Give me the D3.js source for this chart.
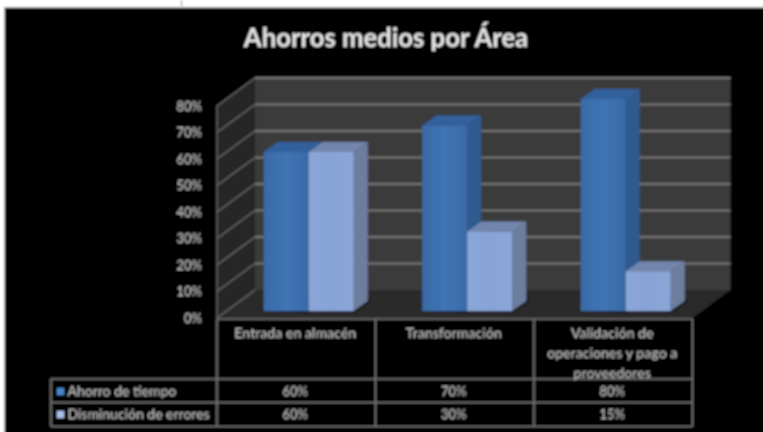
<!DOCTYPE html>
<html>
<head>
<meta charset="utf-8">
<script src="https://cdn.jsdelivr.net/npm/d3@7"></script>
<style>
  html, body { margin: 0; padding: 0; background: #fff; }
  svg { display: block; }
  text { font-family: Lato, "Open Sans", sans-serif; }
</style>
</head>
<body>
<div id="chart-area"></div>
<script>
const categories = ["Entrada en almacén", "Transformación", "Validación de operaciones y pago a proveedores"];
const categoryLines = [["Entrada en almacén"], ["Transformación"], ["Validación de", "operaciones y pago a", "proveedores"]];
const seriesNames = ["Ahorro de tiempo", "Disminución de errores"];
const ahorro = [60, 70, 80];
const disminucion = [60, 30, 15];
const yTicks = [0, 10, 20, 30, 40, 50, 60, 70, 80];

const W = 763, H = 432;
const colors = [
  {front: "#3f74b5", frontDark: "#3a6aa6", top: "#32609c", side: "#2e5a90"},
  {front: "#88a3d5", frontDark: "#8ba6d8", top: "#7286ad", side: "#6c7d9e"}
];
// 3d offsets: whole depth of the box, where the bars stand, depth of a bar
const depth = {x: 38, y: -28};
const barPos = {x: 12.5, y: -7};
const barDepth = {x: 14, y: -10};

const svg = d3.select("#chart-area").append("svg")
  .attr("width", W).attr("height", H);

const defs = svg.append("defs");
defs.append("filter").attr("id", "soft")
  .attr("x", 0).attr("y", 0).attr("width", W).attr("height", H)
  .attr("filterUnits", "userSpaceOnUse")
  .append("feGaussianBlur").attr("stdDeviation", 0.85);
colors.forEach((c, i) => {
  let grad = defs.append("linearGradient").attr("id", "bar" + i);
  grad.append("stop").attr("offset", "0%").attr("stop-color", c.frontDark);
  grad.append("stop").attr("offset", "50%").attr("stop-color", c.front);
  grad.append("stop").attr("offset", "100%").attr("stop-color", c.frontDark);
});

const root = svg.append("g").attr("filter", "url(#soft)");

// white page with the black slide on it
root.append("rect").attr("width", W).attr("height", H).attr("fill", "#fff");
root.append("rect").attr("x", 4.5).attr("y", 7.5).attr("width", W).attr("height", H)
  .attr("fill", "#000").attr("stroke", "#9a9a9a");
root.append("line").attr("x1", 181.5).attr("x2", 181.5).attr("y1", 0).attr("y2", 6)
  .attr("stroke", "#555");

root.append("text").text("Ahorros medios por Área")
  .attr("x", 386).attr("y", 47)
  .attr("text-anchor", "middle")
  .attr("font-size", 25.7).attr("font-weight", 700)
  .attr("fill", "#e8e8e8");

const x = d3.scaleBand().domain(categories).range([217, 692.5]);
const xSeries = d3.scaleBand().domain(seriesNames).range([0, 90]);
const y = d3.scaleLinear().domain([0, 80]).range([318, 106]);

const poly = pts => pts.map(p => p.join(",")).join(" ");
const x0 = x.range()[0], x1 = x.range()[1];

// walls and floor
root.append("polygon")
  .attr("points", poly([[x0 + depth.x, y(80) + depth.y], [x1 + depth.x, y(80) + depth.y], [x1 + depth.x, y(0) + depth.y], [x0 + depth.x, y(0) + depth.y]]))
  .attr("fill", "#3a3a3a");
root.append("polygon")
  .attr("points", poly([[x0, y(80)], [x0 + depth.x, y(80) + depth.y], [x0 + depth.x, y(0) + depth.y], [x0, y(0)]]))
  .attr("fill", "#262626");
root.append("polygon")
  .attr("points", poly([[x0, y(0)], [x1, y(0)], [x1 + depth.x, y(0) + depth.y], [x0 + depth.x, y(0) + depth.y]]))
  .attr("fill", "#292929");

// gridlines, back wall then side wall
root.append("g").selectAll("line").data(yTicks.slice(1)).join("line")
  .attr("x1", x0 + depth.x).attr("x2", x1 + depth.x)
  .attr("y1", d => y(d) + depth.y).attr("y2", d => y(d) + depth.y)
  .attr("stroke", "#767676").attr("stroke-width", 2);
root.append("g").selectAll("line").data(yTicks).join("line")
  .attr("x1", x0).attr("x2", x0 + depth.x)
  .attr("y1", d => y(d)).attr("y2", d => y(d) + depth.y)
  .attr("stroke", "#6a6a6a").attr("stroke-width", 1.4);
root.append("line")
  .attr("x1", x0).attr("x2", x0).attr("y1", y(80)).attr("y2", y(0))
  .attr("stroke", "#6a6a6a").attr("stroke-width", 1.4);

// y axis labels
let yAxis = d3.axisLeft(y).tickValues(yTicks).tickSize(0).tickPadding(15)
  .tickFormat(d => d + "%");
let yAxis_group = root.append("g")
  .attr("transform", "translate(" + x0 + ",0)")
  .call(yAxis);
yAxis_group.select(".domain").remove();
yAxis_group.selectAll("text")
  .attr("font-family", "Lato").attr("font-size", 13).attr("font-weight", 400)
  .attr("fill", "#cccccc");

// bars
const rows = [ahorro, disminucion];
categories.forEach((cat, ci) => {
  seriesNames.forEach((name, si) => {
    let c = colors[si];
    let left = x(cat) + (x.bandwidth() - xSeries.range()[1]) / 2 + xSeries(name) + barPos.x;
    let right = left + xSeries.bandwidth();
    let bottom = y(0) + barPos.y;
    let top = y(rows[si][ci]) + barPos.y;
    let g = root.append("g");
    // shadow on the floor
    g.append("polygon")
      .attr("points", poly([[left + 4, bottom], [right + 2, bottom + 1.5], [right + barDepth.x + 3, bottom + barDepth.y], [right + barDepth.x, bottom + barDepth.y - 2]]))
      .attr("fill", "#141414");
    g.append("polygon")
      .attr("points", poly([[left, top], [right, top], [right + barDepth.x, top + barDepth.y], [left + barDepth.x, top + barDepth.y]]))
      .attr("fill", c.top);
    g.append("polygon")
      .attr("points", poly([[right, top], [right + barDepth.x, top + barDepth.y], [right + barDepth.x, bottom + barDepth.y], [right, bottom]]))
      .attr("fill", c.side);
    g.append("rect")
      .attr("x", left).attr("y", top)
      .attr("width", right - left).attr("height", bottom - top)
      .attr("fill", "url(#bar" + si + ")");
  });
});

// data table under the chart
const tableLeft = 51;
const rowY = [y(0) + 1, 379, 402.5, 426.5];
const lineColor = "#7c7c7c";
let table = root.append("g").attr("stroke", lineColor).attr("stroke-width", 1.6).attr("fill", "none");
table.append("line").attr("x1", x0).attr("x2", x1).attr("y1", rowY[0]).attr("y2", rowY[0]);
rowY.slice(1).forEach(ry => {
  table.append("line").attr("x1", tableLeft).attr("x2", x1).attr("y1", ry).attr("y2", ry);
});
table.append("line").attr("x1", tableLeft).attr("x2", tableLeft).attr("y1", rowY[1]).attr("y2", rowY[3]);
categories.concat([null]).forEach(cat => {
  let lx = cat === null ? x1 : x(cat);
  table.append("line").attr("x1", lx).attr("x2", lx).attr("y1", rowY[0]).attr("y2", rowY[3]);
});

const labelStyle = (sel, size) => sel
  .attr("font-size", size).attr("font-weight", 400).attr("fill", "#c8c8c8");

categories.forEach((cat, ci) => {
  categoryLines[ci].forEach((line, li) => {
    root.append("text").text(line)
      .attr("x", x(cat) + x.bandwidth() / 2 - 1)
      .attr("y", 338 + li * 20)
      .attr("text-anchor", "middle")
      .call(labelStyle, 14.2);
  });
});

seriesNames.forEach((name, si) => {
  let textY = si === 0 ? 396 : 419;
  root.append("rect")
    .attr("x", 57).attr("y", textY - 8).attr("width", 7).attr("height", 7)
    .attr("fill", si === 0 ? "#4a86cc" : "#a9c3ec");
  root.append("text").text(name)
    .attr("x", 67.5).attr("y", textY)
    .call(labelStyle, 14);
  categories.forEach((cat, ci) => {
    root.append("text").text(rows[si][ci] + "%")
      .attr("x", x(cat) + x.bandwidth() / 2 - 1)
      .attr("y", textY)
      .attr("text-anchor", "middle")
      .call(labelStyle, 13);
  });
});
</script>
</body>
</html>
